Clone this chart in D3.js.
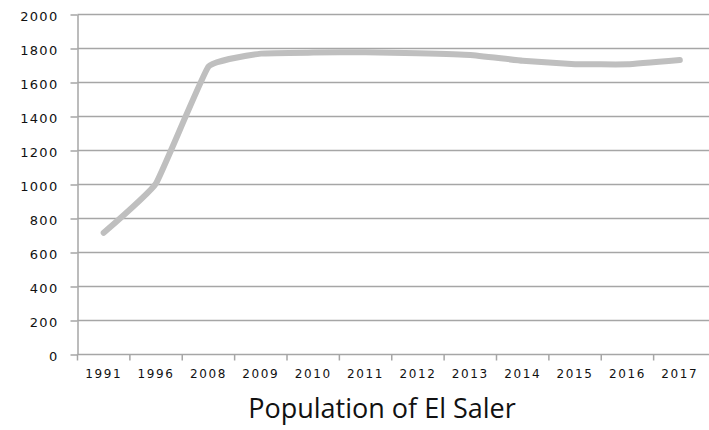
<!DOCTYPE html>
<html>
<head>
<meta charset="utf-8">
<script src="https://cdn.jsdelivr.net/npm/d3@7"></script>
<style>
  html, body { margin: 0; padding: 0; background: #fff; }
  svg { display: block; }
</style>
</head>
<body>
<svg id="chart" width="709" height="430"></svg>
<script>
// Population of El Saler by year
const years = ["1991", "1996", "2008", "2009", "2010", "2011", "2012", "2013", "2014", "2015", "2016", "2017"];
const population = [716, 1007, 1693, 1770, 1776, 1778, 1772, 1762, 1728, 1708, 1707, 1732];
const yTicks = [0, 200, 400, 600, 800, 1000, 1200, 1400, 1600, 1800, 2000];
const chartTitle = "Population of El Saler";

const svg = d3.select("#chart");
const margin = { top: 14.5, right: 3, bottom: 75.5, left: 77.5 };
const width = 709, height = 430;

const x = d3.scaleBand()
  .domain(years)
  .range([margin.left, width - margin.right]);

const y = d3.scaleLinear()
  .domain([0, 2000])
  .range([height - margin.bottom, margin.top]);

const gridColor = "#a6a6a6";
const labelFont = "'DejaVu Sans', Verdana, sans-serif";
const titleFont = "'Open Sans', 'DejaVu Sans', sans-serif";

// horizontal gridlines
svg.append("g")
  .selectAll("line")
  .data(yTicks.filter(d => d > 0))
  .join("line")
  .attr("x1", margin.left)
  .attr("x2", width)
  .attr("y1", d => y(d))
  .attr("y2", d => y(d))
  .attr("stroke", gridColor)
  .attr("stroke-width", 1.5);

// y axis
const yAxis = svg.append("g")
  .attr("transform", `translate(${margin.left},0)`)
  .call(d3.axisLeft(y).tickValues(yTicks).tickFormat(d3.format("d"))
    .tickSize(7).tickPadding(12).tickSizeOuter(0));
yAxis.select(".domain").attr("stroke", gridColor).attr("stroke-width", 1.5);
yAxis.selectAll(".tick line").attr("stroke", gridColor).attr("stroke-width", 1.5);
yAxis.selectAll("text")
  .attr("fill", "#111")
  .attr("dy", "0.45em")
  .style("font-family", labelFont)
  .style("font-size", "13px")
  .style("letter-spacing", "1.3px");

// x axis
const xAxis = svg.append("g")
  .attr("transform", `translate(0,${y(0)})`)
  .call(d3.axisBottom(x).tickSize(0).tickPadding(15).tickSizeOuter(0));
xAxis.select(".domain").attr("stroke", gridColor).attr("stroke-width", 1.5)
  .attr("d", `M${margin.left},0H${width}`);
xAxis.selectAll("text")
  .attr("fill", "#111")
  .style("font-family", labelFont)
  .style("font-size", "12px")
  .style("letter-spacing", "1.6px");

// category boundary tick marks
svg.append("g")
  .selectAll("line")
  .data(years)
  .join("line")
  .attr("x1", d => x(d))
  .attr("x2", d => x(d))
  .attr("y1", y(0))
  .attr("y2", y(0) + 6)
  .attr("stroke", gridColor)
  .attr("stroke-width", 1.5);

// population line
const line = d3.line()
  .x((d, i) => x(years[i]) + x.bandwidth() / 2)
  .y(d => y(d))
  .curve(d3.curveCardinal.tension(0.7));

svg.append("path")
  .datum(population)
  .attr("d", line)
  .attr("fill", "none")
  .attr("stroke", "#bfbfbf")
  .attr("stroke-width", 6)
  .attr("stroke-linecap", "round")
  .attr("stroke-linejoin", "round");

// title
svg.append("text")
  .attr("x", 382)
  .attr("y", 418)
  .attr("text-anchor", "middle")
  .attr("fill", "#111")
  .style("font-family", titleFont)
  .style("font-size", "27px")
  .text(chartTitle);
</script>
</body>
</html>
